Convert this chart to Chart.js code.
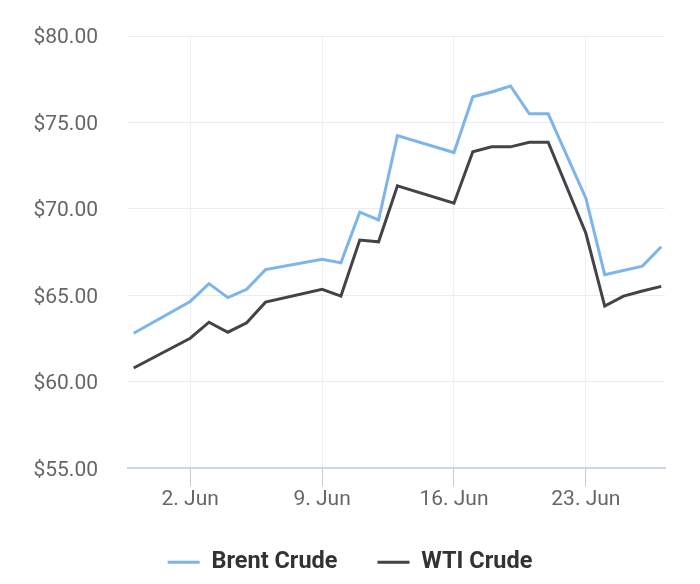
<!DOCTYPE html>
<html lang="en">
<head>
    <meta charset="UTF-8">
    <title>Brent vs WTI Crude</title>
    <script src="https://cdn.jsdelivr.net/npm/chart.js"></script>
    <style>
        html, body {
            margin: 0;
            padding: 0;
            background: #ffffff;
        }
        #wrap {
            width: 700px;
            height: 584px;
        }
    </style>
</head>
<body>
    <div id="wrap">
        <canvas id="oilChart"></canvas>
    </div>

    <script>
        // trading days shown on the chart
        const dates = [
            '2025-05-30', '2025-06-02', '2025-06-03', '2025-06-04', '2025-06-05', '2025-06-06',
            '2025-06-09', '2025-06-10', '2025-06-11', '2025-06-12', '2025-06-13',
            '2025-06-16', '2025-06-17', '2025-06-18', '2025-06-19', '2025-06-20', '2025-06-21',
            '2025-06-23', '2025-06-24', '2025-06-25', '2025-06-26', '2025-06-27'
        ];
        const brent = [
            62.81, 64.65, 65.68, 64.87, 65.35, 66.49,
            67.09, 66.88, 69.81, 69.36, 74.24,
            73.26, 76.49, 76.76, 77.11, 75.50, 75.50,
            70.62, 66.20, null, 66.69, 67.81
        ];
        const wti = [
            60.80, 62.52, 63.45, 62.87, 63.41, 64.61,
            65.35, 64.96, 68.20, 68.10, 71.34,
            70.33, 73.30, 73.59, 73.59, 73.86, 73.86,
            68.59, 64.38, 64.96, 65.25, 65.52
        ];
        const tickDays = [2, 9, 16, 23];
        const yTicks = [55, 60, 65, 70, 75, 80];

        // day number within June (1 Jun = 1, 30 May = -1)
        function dayOf(iso) {
            return (Date.parse(iso) - Date.parse('2025-06-01')) / 86400000 + 1;
        }

        function toPoints(values) {
            return dates.map((d, i) => ({ x: dayOf(d), y: values[i] }));
        }

        const ctx = document.getElementById('oilChart').getContext('2d');

        new Chart(ctx, {
            type: 'line',
            data: {
                datasets: [
                    {
                        label: 'Brent Crude',
                        data: toPoints(brent),
                        borderColor: '#7cb5ec',
                        backgroundColor: '#7cb5ec',
                        borderWidth: 3,
                        pointRadius: 0,
                        tension: 0,
                        spanGaps: true
                    },
                    {
                        label: 'WTI Crude',
                        data: toPoints(wti),
                        borderColor: '#434348',
                        backgroundColor: '#434348',
                        borderWidth: 3,
                        pointRadius: 0,
                        tension: 0,
                        spanGaps: true
                    }
                ]
            },
            options: {
                responsive: true,
                maintainAspectRatio: false,
                animation: false,
                layout: {
                    padding: { left: 0, right: 0, top: 36, bottom: 0 }
                },
                plugins: {
                    tooltip: { enabled: false },
                    legend: {
                        position: 'bottom',
                        labels: {
                            boxWidth: 32,
                            boxHeight: 3,
                            padding: 40,
                            color: '#333333',
                            font: { family: 'Roboto', size: 23.5, weight: 'bold' },
                            generateLabels: chart => chart.data.datasets.map((ds, i) => ({
                                text: ds.label,
                                fillStyle: ds.borderColor,
                                strokeStyle: ds.borderColor,
                                lineWidth: 0,
                                hidden: false,
                                datasetIndex: i,
                                fontColor: '#333333'
                            }))
                        }
                    }
                },
                scales: {
                    x: {
                        type: 'linear',
                        min: -1.3,
                        max: 27.2,
                        afterBuildTicks: scale => {
                            scale.ticks = tickDays.map(v => ({ value: v }));
                        },
                        afterFit: scale => {
                            scale.height = 42.2;
                        },
                        ticks: {
                            color: '#666666',
                            padding: 1,
                            maxRotation: 0,
                            font: { family: 'Roboto', size: 21 },
                            callback: v => v + '. Jun'
                        },
                        grid: {
                            color: '#f0f0f0',
                            tickColor: '#cccccc',
                            tickLength: 18,
                            lineWidth: 1
                        },
                        border: {
                            display: true,
                            color: '#ccd6eb',
                            width: 2
                        }
                    },
                    y: {
                        min: 55,
                        max: 80,
                        afterBuildTicks: scale => {
                            scale.ticks = yTicks.map(v => ({ value: v }));
                        },
                        afterFit: scale => {
                            scale.width = 128;
                            // label gap should not push the plot area down
                            scale.paddingTop = 0;
                            scale.paddingBottom = 0;
                        },
                        ticks: {
                            color: '#666666',
                            padding: 30,
                            labelOffset: 2,
                            font: { family: 'Roboto', size: 21 },
                            callback: v => '$' + v.toFixed(2)
                        },
                        grid: {
                            color: '#ececec',
                            drawTicks: false,
                            lineWidth: 1
                        },
                        border: { display: false }
                    },
                    // empty right-hand margin, keeps the legend centred on the whole canvas
                    yRight: {
                        position: 'right',
                        min: 55,
                        max: 80,
                        afterFit: scale => {
                            scale.width = 35;
                        },
                        ticks: { display: false },
                        grid: { display: false },
                        border: { display: false }
                    }
                }
            }
        });
    </script>
</body>
</html>
